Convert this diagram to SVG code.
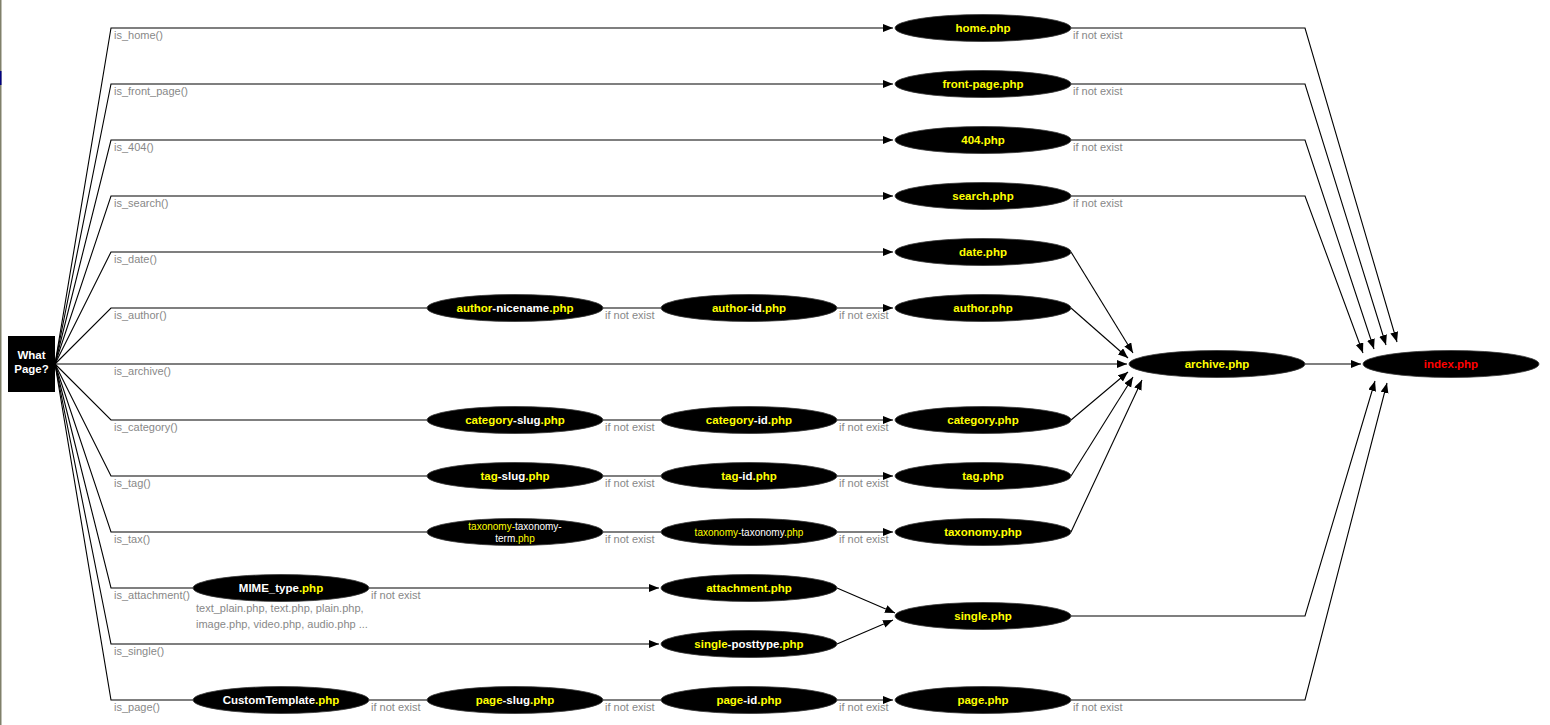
<svg xmlns="http://www.w3.org/2000/svg" width="1550" height="725" viewBox="0 0 1550 725">
  <style>
    .bg { fill: #ffffff; }
    .edge { fill: none; stroke: #000000; stroke-width: 1.1; }
    .arr { marker-end: url(#head); }
    .lbl { font-family: "Liberation Sans", Arial, sans-serif; font-size: 11px; fill: #888888; }
    .node ellipse { fill: #000000; stroke: #3a3a3a; stroke-width: 0.8; }
    .nt { font-family: "Liberation Sans", Arial, sans-serif; font-size: 11.5px; font-weight: bold; text-anchor: middle; fill: #ffffff; }
    .nt2 { font-family: "Liberation Sans", Arial, sans-serif; font-size: 10px; text-anchor: middle; fill: #ffffff; }
    .y { fill: #ffff00; }
    .w { fill: #ffffff; }
    .r { fill: #ff0000; }
  </style>
  <defs>
    <marker id="head" markerUnits="userSpaceOnUse" markerWidth="11" markerHeight="9" refX="10" refY="4" orient="auto">
      <path d="M0,0 L10,4 L0,8 z" fill="#000000"/>
    </marker>
  </defs>

  <rect class="bg" x="0" y="0" width="1550" height="725"/>
  <!-- window frame edge -->
  <rect x="0" y="0" width="1.5" height="725" fill="#80806a"/>
  <rect x="0" y="71" width="1.5" height="14" fill="#000080"/>

  <!-- connectors -->
  <g id="connectors">
    <!-- fan out of the decision box -->
    <path class="edge arr" d="M55,364 L111,28 H893"/>
    <path class="edge arr" d="M55,364 L111,84 H893"/>
    <path class="edge arr" d="M55,364 L111,140 H893"/>
    <path class="edge arr" d="M55,364 L111,196 H893"/>
    <path class="edge arr" d="M55,364 L111,252 H893"/>
    <path class="edge" d="M55,364 L111,308 H427"/>
    <path class="edge arr" d="M55,364 H1127"/>
    <path class="edge" d="M55,364 L111,420 H427"/>
    <path class="edge" d="M55,364 L111,476 H427"/>
    <path class="edge" d="M55,364 L111,532 H427"/>
    <path class="edge" d="M55,364 L111,588 H193"/>
    <path class="edge arr" d="M55,364 L111,644 H659"/>
    <path class="edge" d="M55,364 L111,700 H193"/>

    <!-- fallback chains -->
    <path class="edge" d="M603,308 H661"/>
    <path class="edge arr" d="M837,308 H893"/>
    <path class="edge" d="M603,420 H661"/>
    <path class="edge arr" d="M837,420 H893"/>
    <path class="edge" d="M603,476 H661"/>
    <path class="edge arr" d="M837,476 H893"/>
    <path class="edge" d="M603,532 H661"/>
    <path class="edge arr" d="M837,532 H893"/>
    <path class="edge arr" d="M369,588 H659"/>
    <path class="edge" d="M369,700 H427"/>
    <path class="edge" d="M603,700 H661"/>
    <path class="edge arr" d="M837,700 H893"/>

    <!-- into single.php -->
    <path class="edge arr" d="M837,588 L895,613"/>
    <path class="edge arr" d="M837,644 L893,620"/>

    <!-- into archive.php -->
    <path class="edge arr" d="M1071,252 L1133,353"/>
    <path class="edge arr" d="M1071,308 L1128,358"/>
    <path class="edge arr" d="M1071,420 L1128,372"/>
    <path class="edge arr" d="M1071,476 L1133,377"/>
    <path class="edge arr" d="M1071,532 L1142,380"/>

    <!-- into index.php -->
    <path class="edge arr" d="M1071,28 H1305 L1397,342"/>
    <path class="edge arr" d="M1071,84 H1305 L1386,345"/>
    <path class="edge arr" d="M1071,140 H1305 L1374,349"/>
    <path class="edge arr" d="M1071,196 H1305 L1363,353"/>
    <path class="edge arr" d="M1305,364 H1361"/>
    <path class="edge arr" d="M1071,616 H1305 L1375,381"/>
    <path class="edge arr" d="M1071,700 H1305 L1387,383"/>

    <!-- condition labels -->
    <text class="lbl" x="114" y="39">is_home()</text>
    <text class="lbl" x="114" y="95">is_front_page()</text>
    <text class="lbl" x="114" y="151">is_404()</text>
    <text class="lbl" x="114" y="207">is_search()</text>
    <text class="lbl" x="114" y="263">is_date()</text>
    <text class="lbl" x="114" y="319">is_author()</text>
    <text class="lbl" x="114" y="375">is_archive()</text>
    <text class="lbl" x="114" y="431">is_category()</text>
    <text class="lbl" x="114" y="487">is_tag()</text>
    <text class="lbl" x="114" y="543">is_tax()</text>
    <text class="lbl" x="114" y="599">is_attachment()</text>
    <text class="lbl" x="114" y="655">is_single()</text>
    <text class="lbl" x="114" y="711">is_page()</text>

    <!-- fallback labels -->
    <text class="lbl" x="1073" y="39">if not exist</text>
    <text class="lbl" x="1073" y="95">if not exist</text>
    <text class="lbl" x="1073" y="151">if not exist</text>
    <text class="lbl" x="1073" y="207">if not exist</text>
    <text class="lbl" x="605" y="319">if not exist</text>
    <text class="lbl" x="839" y="319">if not exist</text>
    <text class="lbl" x="605" y="431">if not exist</text>
    <text class="lbl" x="839" y="431">if not exist</text>
    <text class="lbl" x="605" y="487">if not exist</text>
    <text class="lbl" x="839" y="487">if not exist</text>
    <text class="lbl" x="605" y="543">if not exist</text>
    <text class="lbl" x="839" y="543">if not exist</text>
    <text class="lbl" x="371" y="599">if not exist</text>
    <text class="lbl" x="196" y="612">text_plain.php, text.php, plain.php,</text>
    <text class="lbl" x="196" y="628">image.php, video.php, audio.php ...</text>
    <text class="lbl" x="371" y="711">if not exist</text>
    <text class="lbl" x="605" y="711">if not exist</text>
    <text class="lbl" x="839" y="711">if not exist</text>
    <text class="lbl" x="1073" y="711">if not exist</text>
  </g>

  <!-- decision box -->
  <g id="what-page">
    <rect x="8" y="336" width="47" height="56" fill="#000000"/>
    <text class="nt" x="31.5" y="358.5">What</text>
    <text class="nt" x="31.5" y="373">Page?</text>
  </g>

  <!-- templates, column D -->
  <g id="home" class="node"><ellipse cx="983" cy="28" rx="88" ry="13.5"/><text class="nt" x="983" y="32"><tspan class="y">home.php</tspan></text></g>
  <g id="front-page" class="node"><ellipse cx="983" cy="84" rx="88" ry="13.5"/><text class="nt" x="983" y="88"><tspan class="y">front-page.php</tspan></text></g>
  <g id="p404" class="node"><ellipse cx="983" cy="140" rx="88" ry="13.5"/><text class="nt" x="983" y="144"><tspan class="y">404.php</tspan></text></g>
  <g id="search" class="node"><ellipse cx="983" cy="196" rx="88" ry="13.5"/><text class="nt" x="983" y="200"><tspan class="y">search.php</tspan></text></g>
  <g id="date" class="node"><ellipse cx="983" cy="252" rx="88" ry="13.5"/><text class="nt" x="983" y="256"><tspan class="y">date.php</tspan></text></g>
  <g id="author" class="node"><ellipse cx="983" cy="308" rx="88" ry="13.5"/><text class="nt" x="983" y="312"><tspan class="y">author.php</tspan></text></g>
  <g id="category" class="node"><ellipse cx="983" cy="420" rx="88" ry="13.5"/><text class="nt" x="983" y="424"><tspan class="y">category.php</tspan></text></g>
  <g id="tag" class="node"><ellipse cx="983" cy="476" rx="88" ry="13.5"/><text class="nt" x="983" y="480"><tspan class="y">tag.php</tspan></text></g>
  <g id="taxonomy" class="node"><ellipse cx="983" cy="532" rx="88" ry="13.5"/><text class="nt" x="983" y="536"><tspan class="y">taxonomy.php</tspan></text></g>
  <g id="single" class="node"><ellipse cx="983" cy="616" rx="88" ry="13.5"/><text class="nt" x="983" y="620"><tspan class="y">single.php</tspan></text></g>
  <g id="page" class="node"><ellipse cx="983" cy="700" rx="88" ry="13.5"/><text class="nt" x="983" y="704"><tspan class="y">page.php</tspan></text></g>

  <!-- templates, column C -->
  <g id="author-id" class="node"><ellipse cx="749" cy="308" rx="88" ry="13.5"/><text class="nt" x="749" y="312"><tspan class="y">author</tspan><tspan class="w">-id</tspan><tspan class="y">.php</tspan></text></g>
  <g id="category-id" class="node"><ellipse cx="749" cy="420" rx="88" ry="13.5"/><text class="nt" x="749" y="424"><tspan class="y">category</tspan><tspan class="w">-id</tspan><tspan class="y">.php</tspan></text></g>
  <g id="tag-id" class="node"><ellipse cx="749" cy="476" rx="88" ry="13.5"/><text class="nt" x="749" y="480"><tspan class="y">tag</tspan><tspan class="w">-id</tspan><tspan class="y">.php</tspan></text></g>
  <g id="taxonomy-taxonomy" class="node"><ellipse cx="749" cy="532" rx="88" ry="13.5"/><text class="nt2" x="749" y="536"><tspan class="y">taxonomy-</tspan><tspan class="w">taxonomy</tspan><tspan class="y">.php</tspan></text></g>
  <g id="attachment" class="node"><ellipse cx="749" cy="588" rx="88" ry="13.5"/><text class="nt" x="749" y="592"><tspan class="y">attachment.php</tspan></text></g>
  <g id="single-posttype" class="node"><ellipse cx="749" cy="644" rx="88" ry="13.5"/><text class="nt" x="749" y="648"><tspan class="y">single</tspan><tspan class="w">-posttype</tspan><tspan class="y">.php</tspan></text></g>
  <g id="page-id" class="node"><ellipse cx="749" cy="700" rx="88" ry="13.5"/><text class="nt" x="749" y="704"><tspan class="y">page</tspan><tspan class="w">-id</tspan><tspan class="y">.php</tspan></text></g>

  <!-- templates, column B -->
  <g id="author-nicename" class="node"><ellipse cx="515" cy="308" rx="88" ry="13.5"/><text class="nt" x="515" y="312"><tspan class="y">author</tspan><tspan class="w">-nicename</tspan><tspan class="y">.php</tspan></text></g>
  <g id="category-slug" class="node"><ellipse cx="515" cy="420" rx="88" ry="13.5"/><text class="nt" x="515" y="424"><tspan class="y">category</tspan><tspan class="w">-slug</tspan><tspan class="y">.php</tspan></text></g>
  <g id="tag-slug" class="node"><ellipse cx="515" cy="476" rx="88" ry="13.5"/><text class="nt" x="515" y="480"><tspan class="y">tag</tspan><tspan class="w">-slug</tspan><tspan class="y">.php</tspan></text></g>
  <g id="taxonomy-taxonomy-term" class="node"><ellipse cx="515" cy="532" rx="88" ry="13.5"/>
    <text class="nt2" x="515" y="529.5"><tspan class="y">taxonomy-</tspan><tspan class="w">taxonomy-</tspan></text>
    <text class="nt2" x="515" y="541.5"><tspan class="w">term</tspan><tspan class="y">.php</tspan></text>
  </g>
  <g id="page-slug" class="node"><ellipse cx="515" cy="700" rx="88" ry="13.5"/><text class="nt" x="515" y="704"><tspan class="y">page</tspan><tspan class="w">-slug</tspan><tspan class="y">.php</tspan></text></g>

  <!-- templates, column A -->
  <g id="mime-type" class="node"><ellipse cx="281" cy="588" rx="88" ry="13.5"/><text class="nt" x="281" y="592"><tspan class="w">MIME_type</tspan><tspan class="y">.php</tspan></text></g>
  <g id="custom-template" class="node"><ellipse cx="281" cy="700" rx="88" ry="13.5"/><text class="nt" x="281" y="704"><tspan class="w">CustomTemplate</tspan><tspan class="y">.php</tspan></text></g>

  <!-- archive and index -->
  <g id="archive" class="node"><ellipse cx="1217" cy="364" rx="88" ry="13.5"/><text class="nt" x="1217" y="368"><tspan class="y">archive.php</tspan></text></g>
  <g id="index" class="node"><ellipse cx="1451" cy="364" rx="88" ry="13.5"/><text class="nt" x="1451" y="368"><tspan class="r">index.php</tspan></text></g>
</svg>
